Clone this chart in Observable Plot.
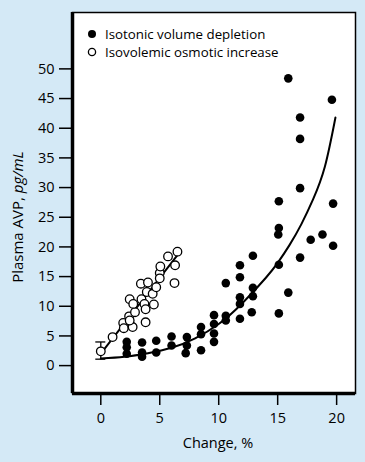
<!DOCTYPE html>
<html><head><meta charset="utf-8">
<script src="https://cdn.jsdelivr.net/npm/d3@7"></script>
<script src="https://cdn.jsdelivr.net/npm/@observablehq/plot@0.6"></script>
<style>
html,body{margin:0;padding:0;background:#d4e9f6;}
#chart{width:365px;height:462px;}
</style></head>
<body><div id="chart"></div>
<script>
// Isotonic volume depletion (filled)
const depX = [15.9,19.6,16.9,16.9,16.9,15.1,19.7,15.1,15.05,17.8,18.8,19.7,16.9,15.1,15.9,12.9,11.8,11.8,10.6,12.9,12.9,11.8,11.8,12.8,15.1,11.8,10.6,10.6,9.6,9.6,9.6,9.6,8.5,8.5,8.5,7.3,7.3,7.2,6.0,6.0,4.7,4.7,3.5,3.5,3.5,2.2,2.2,2.2];
const depY = [48.4,44.8,41.8,38.2,29.9,27.7,27.3,23.2,22.1,21.2,22.1,20.2,18.2,17.0,12.3,18.5,16.9,14.9,13.9,13.1,11.7,11.5,10.4,9.0,8.8,7.9,8.4,7.6,8.5,7.0,5.4,4.0,6.5,5.3,2.6,4.8,3.4,2.1,4.9,3.4,4.2,2.2,3.9,2.2,1.5,4.0,3.1,2.0];
// Isovolemic osmotic increase (open)
const osmX = [0,1.0,1.9,1.95,2.7,2.4,2.45,2.9,2.45,2.75,3.45,3.7,3.8,3.8,3.9,4.4,4.5,3.4,4.0,4.7,5.0,5.05,5.0,5.7,6.5,6.3,6.25];
const osmY = [2.4,4.8,7.2,6.3,6.5,8.3,7.6,9.0,11.2,10.4,11.2,10.4,9.5,7.3,12.4,12.1,10.3,13.8,14.0,13.2,15.6,16.7,14.7,18.4,19.2,16.9,13.9];
// Fit curves
const depFitX = [0,2,4,6,8,10,12,14,15,16,17,18,19,19.9];
const depFitY = [1.2,1.5,2.1,3.0,4.6,7.0,10.5,14.8,17.3,20.3,23.8,28.0,33.5,41.8];
const osmFitX = [0,6.5];
const osmFitY = [2.0,18.6];
// Error bar on baseline point
const errX = [0];
const errLo = [1.0];
const errHi = [3.9];
// ticks and labels
const xTicks = [0,5,10,15,20];
const yTicks = [0,5,10,15,20,25,30,35,40,45,50];
const legendLabels = ["Isotonic volume depletion","Isovolemic osmotic increase"];
const xLabel = "Change, %";
const yLabelMain = "Plasma AVP, ";
const yLabelUnit = "pg/mL";

const xDom = [-2.4, 21.6], yDom = [-4.7, 59.5];
const dep = depX.map((x,i)=>({x, y:depY[i]}));
const osm = osmX.map((x,i)=>({x, y:osmY[i]}));
const depFit = depFitX.map((x,i)=>({x, y:depFitY[i]}));
const osmFit = osmFitX.map((x,i)=>({x, y:osmFitY[i]}));
const err = errX.map((x,i)=>({x, lo:errLo[i], hi:errHi[i]}));
const FONT = "'Open Sans', sans-serif";

const plot = Plot.plot({
  width: 365, height: 462,
  marginLeft: 72, marginRight: 10, marginTop: 12, marginBottom: 69,
  style: {background: "transparent", fontFamily: FONT, color: "black"},
  x: {domain: xDom},
  y: {domain: yDom},
  marks: [
    Plot.frame({fill: "white", stroke: "black", strokeWidth: 1.5}),
    Plot.ruleX([xDom[0]], {stroke: "black", strokeWidth: 3.5}),
    Plot.ruleY([yDom[0]], {stroke: "black", strokeWidth: 3.5}),
    Plot.axisY({ticks: yTicks, tickSize: 13, tickPadding: 5, fontSize: 14.5, label: null, strokeWidth: 1.5}),
    Plot.axisX({ticks: xTicks, tickSize: 12, tickPadding: 7, fontSize: 14.5, label: null, strokeWidth: 1.5}),
    Plot.line(depFit, {x: "x", y: "y", curve: "natural", stroke: "black", strokeWidth: 2}),
    Plot.line(osmFit, {x: "x", y: "y", stroke: "black", strokeWidth: 2}),
    Plot.ruleX(err, {x: "x", y1: "lo", y2: "hi", stroke: "black", strokeWidth: 1.3}),
    Plot.dot(dep, {x: "x", y: "y", r: 4.3, fill: "black", stroke: "none"}),
    Plot.dot(osm, {x: "x", y: "y", r: 4.3, fill: "white", stroke: "black", strokeWidth: 1.3})
  ]
});

const sx = plot.scale("x"), sy = plot.scale("y");
const svg = d3.select(plot);
// Error bar caps
const capG = svg.append("g");
err.forEach(e => {
  const cx = sx.apply(e.x);
  [e.lo, e.hi].forEach(v => {
    capG.append("line").attr("x1", cx-5).attr("x2", cx+5)
      .attr("y1", sy.apply(v)).attr("y2", sy.apply(v))
      .attr("stroke", "black").attr("stroke-width", 1.3);
  });
});
svg.selectAll("g[aria-label='dot']").raise();

// Legend
const lg = svg.append("g").attr("font-family", FONT).attr("font-size", 13.3).attr("fill", "black");
legendLabels.forEach((t, i) => {
  const y = 12 + 22 + i * 18;
  lg.append("circle").attr("cx", 92).attr("cy", y).attr("r", i === 0 ? 4 : 3.6)
    .attr("fill", i === 0 ? "black" : "white").attr("stroke", "black").attr("stroke-width", i === 0 ? 0 : 1.3);
  lg.append("text").attr("x", 105).attr("y", y).attr("dy", "0.35em").attr("text-anchor", "start").text(t);
});

// X axis title
svg.append("text").attr("x", 218).attr("y", 448).attr("text-anchor", "middle")
  .attr("font-family", FONT).attr("font-size", 14.5).attr("fill", "black").text(xLabel);

// Y axis title with italic unit
const yt = svg.append("text")
  .attr("transform", `translate(23,${217}) rotate(-90)`)
  .attr("text-anchor", "middle").attr("font-size", 15).attr("font-family", FONT).attr("fill", "black");
yt.append("tspan").text(yLabelMain);
yt.append("tspan").attr("font-style", "italic").text(yLabelUnit);

document.getElementById("chart").appendChild(plot);
</script>
</body></html>
